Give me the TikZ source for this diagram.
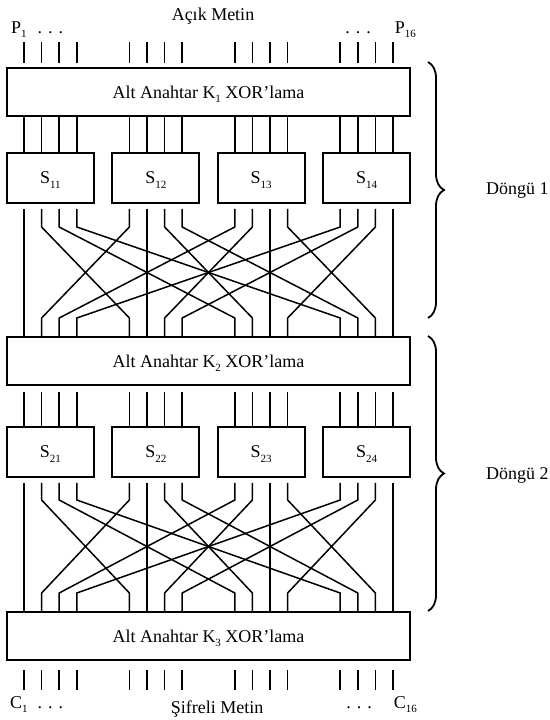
\documentclass[tikz,border=0pt]{standalone}
\usepackage{fontspec}
\setmainfont{Liberation Serif}
\usetikzlibrary{calc}
\usetikzlibrary{decorations.pathreplacing}
\newcommand{\idx}[1]{\raisebox{-4.5pt}[0pt][0pt]{\fontsize{11}{11}\selectfont #1}}

\begin{document}
\begin{tikzpicture}[x=1pt, y=-1pt, font=\fontsize{18}{21}\selectfont]
		
		% Styles
		\tikzset{
			keybox/.style={draw, line width=1.8pt, minimum width=403pt,
				minimum height=48pt, inner sep=0pt},
			sbox/.style={draw, line width=1.8pt, minimum width=87pt,
				minimum height=50pt, inner sep=0pt},
			wire/.style={line width=1.5pt},
			roundbrace/.style={decorate, decoration={brace, amplitude=16pt},
				line width=1.8pt},
			lbl/.style={inner sep=0pt}
		}
		\useasboundingbox (0,0) rectangle (549,720);
		
		% Wire columns and levels
		\foreach \g in {0,...,3}
		\foreach \k in {0,...,3}
		\coordinate (c\g\k) at ({24+105.4*\g+17.6*\k}, 0);
		\coordinate (tinA) at (0,42);
		\coordinate (tinB) at (0,63);
		\coordinate (toutA) at (0,670);
		\coordinate (toutB) at (0,690);
		\coordinate (bendA1) at (0,227);
		\coordinate (bendB1) at (0,318);
		\coordinate (bendA2) at (0,500);
		\coordinate (bendB2) at (0,593);
		
		% --- Key boxes ---
		\node[keybox] (k1) at (208.5,92) {Alt Anahtar K\idx{1} XOR’lama};
		\node[keybox] (k2) at (208.5,361) {Alt Anahtar K\idx{2} XOR’lama};
		\node[keybox] (k3) at (208.5,636) {Alt Anahtar K\idx{3} XOR’lama};
		
		% --- S-boxes ---
		\foreach \g [count=\n] in {0,...,3} {
			\node[sbox] (s1\n) at ({50.4+105.4*\g},178) {S\idx{1\n}};
			\node[sbox] (s2\n) at ({50.4+105.4*\g},452) {S\idx{2\n}};
		}
		
		% Straight wires into the S-boxes
		\foreach \g [count=\n] in {0,...,3}
		\foreach \k in {0,...,3} {
			\draw[wire] (k1.south -| c\g\k) -- (s1\n.north -| c\g\k);
			\draw[wire] ($(k2.south -| c\g\k)+(0,6)$) -- (s2\n.north -| c\g\k);
		}
		
		% Permutation wires
		\foreach \g [count=\n] in {0,...,3}
		\foreach \k in {0,...,3} {
			\draw[wire] ($(s1\n.south -| c\g\k)+(0,5)$) -- (bendA1 -| c\g\k)
			-- (bendB1 -| c\k\g) -- (k2.north -| c\k\g);
			\draw[wire] ($(s2\n.south -| c\g\k)+(0,5)$) -- (bendA2 -| c\g\k)
			-- (bendB2 -| c\k\g) -- (k3.north -| c\k\g);
		}
		
		% Input and output ticks
		\foreach \g in {0,...,3}
		\foreach \k in {0,...,3} {
			\draw[wire] (tinA -| c\g\k) -- (tinB -| c\g\k);
			\draw[wire] (toutA -| c\g\k) -- (toutB -| c\g\k);
		}
		
		% Labels
		\node[lbl, anchor=base] (plain) at (213,20) {Açık Metin};
		\node[lbl, anchor=base west] (p1) at (11,33) {P\idx{1}\hspace{11pt}. . .};
		\node[lbl, anchor=base east] (p16) at (416,33) {. . .\hspace{24pt}P\idx{16}};
		\node[lbl, anchor=base] (cipher) at (217,713) {Şifreli Metin};
		\node[lbl, anchor=base west] (c1) at (10,708) {C\idx{1}\hspace{10pt}. . .};
		\node[lbl, anchor=base east] (c16) at (417,708) {. . .\hspace{22pt}C\idx{16}};
		
		% Rounds
		\draw[roundbrace] (428,62) -- (428,318);
		\draw[roundbrace] (428,336) -- (428,611);
		\node[lbl, anchor=base west] (round1) at (486,194) {Döngü 1};
		\node[lbl, anchor=base west] (round2) at (486,479) {Döngü 2};
		
	\end{tikzpicture}
\end{document}
